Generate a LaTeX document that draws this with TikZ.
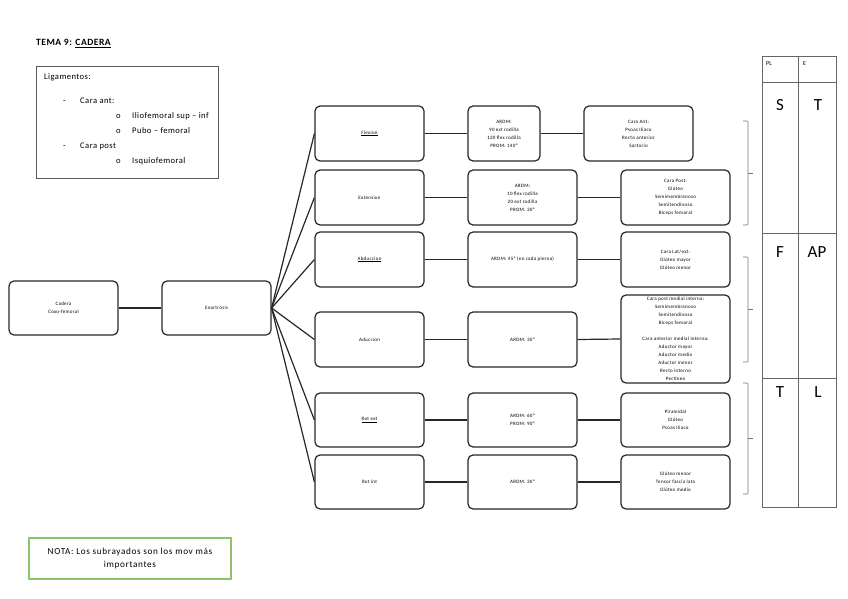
\documentclass[tikz,border=0pt]{standalone}
\usepackage{fontspec}
\setmainfont{Carlito}
\begin{document}
\begin{tikzpicture}[x=1pt,y=-1pt,
  box/.style={draw=black!85, rounded corners=5, line width=1.2pt, minimum width=109pt, minimum height=55pt, align=center, inner sep=1pt, font=\fontsize{5}{8}\selectfont\addfontfeatures{LetterSpace=6}},
  conn/.style={draw=black!85, line width=1.2pt},
  txt/.style={anchor=base west, inner sep=0pt, font=\fontsize{8.6}{9}\selectfont\addfontfeatures{LetterSpace=5}},
  big/.style={anchor=base, inner sep=0pt, font=\fontsize{17}{18}\selectfont},
  grid/.style={draw=black!60, line width=0.6pt},
  brc/.style={draw=black!55, line width=0.6pt, rounded corners=1pt}]
\useasboundingbox (0,0) rectangle (848,599);

% title
\node[anchor=base west, inner sep=0pt, font=\fontsize{9.6}{10}\selectfont\bfseries\addfontfeatures{LetterSpace=5}] (title) at (36,46) {TEMA 9: \underline{CADERA}};

% ligamentos box
\node[draw=black!65, line width=0.8pt, minimum width=182pt, minimum height=112pt, inner sep=0pt] (lig) at (127,122) {};
\node[txt] (l1) at (44,80) {Ligamentos:};
\node[txt] (l2d) at (63,104) {-};
\node[txt] (l2) at (80,104) {Cara ant:};
\node[txt] (l3d) at (116,119) {o};
\node[txt] (l3) at (132,119) {Iliofemoral sup -- inf};
\node[txt] (l4d) at (116,134) {o};
\node[txt] (l4) at (132,134) {Pubo -- femoral};
\node[txt] (l5d) at (63,149) {-};
\node[txt] (l5) at (80,149) {Cara post};
\node[txt] (l6d) at (116,163) {o};
\node[txt] (l6) at (132,163) {Isquiofemoral};

% main chain
\node[box, minimum height=54pt] (cad) at (63.5,308) {Cadera\\Coxo-femoral};
\node[box, minimum height=54pt] (enar) at (216.5,308) {Enartrosis};

% column 2
\node[box] (flex) at (369.5,133.5) {\underline{Flexion}};
\node[box] (ext) at (369.5,197.5) {Extension};
\node[box] (abd) at (369.5,259.5) {\underline{Abduccion}};
\node[box] (add) at (369.5,339.5) {Aduccion};
\node[box, minimum height=54pt] (rext) at (369.5,420) {\underline{Rot ext}};
\node[box, minimum height=54pt] (rint) at (369.5,482) {Rot int};

% column 3
\node[box, minimum width=72pt] (a1) at (504,133.5) {ARDM:\\90 ext rodilla\\120 flex rodilla\\PROM: 140º};
\node[box] (a2) at (522.5,197.5) {ARDM:\\10 flex rodilla\\20 ext rodilla\\PROM: 30º};
\node[box] (a3) at (522.5,259.5) {ARDM: 45º (en cada pierna)};
\node[box] (a4) at (522.5,339.5) {ARDM: 30º};
\node[box, minimum height=54pt] (a5) at (522.5,420) {ARDM: 60º\\PROM: 90º};
\node[box, minimum height=54pt] (a6) at (522.5,482) {ARDM: 30º};

% column 4
\node[box] (m1) at (638.5,133.5) {Cara Ant:\\Psoas Iliaco\\Recto anterior\\Sartorio};
\node[box] (m2) at (675.5,197.5) {Cara Post:\\Glúteo\\Semimembranoso\\Semitendinoso\\Bíceps femoral};
\node[box] (m3) at (675.5,259.5) {Cara Lat/ext:\\Glúteo mayor\\Glúteo menor};
\node[box, minimum height=88pt] (m4) at (675.5,339) {Cara post medial interna:\\Semimembranoso\\Semitendinoso\\Bíceps femoral\\[8pt]Cara anterior medial interna:\\Aductor mayor\\Aductor medio\\Aductor menor\\Recto interno\\Pectíneo};
\node[box, minimum height=54pt] (m5) at (675.5,420) {Piramidal\\Glúteo\\Psoas Iliaco};
\node[box, minimum height=54pt] (m6) at (675.5,482) {Glúteo menor\\Tensor fascia lata\\Glúteo medio};

% connectors
\draw[conn] (cad.east) -- (enar.west);
\foreach \n in {flex,ext,abd,add,rext,rint} {\draw[conn] (enar.east) -- (\n.west);}
\draw[conn] (flex.east) -- (a1.west);
\draw[conn] (a1.east) -- (m1.west);
\draw[conn] (ext.east) -- (a2.west);
\draw[conn] (a2.east) -- (m2.west);
\draw[conn] (abd.east) -- (a3.west);
\draw[conn] (a3.east) -- (m3.west);
\draw[conn] (add.east) -- (a4.west);
\draw[conn] (a4.east) -- (m4.west);
\draw[conn] (rext.east) -- (a5.west);
\draw[conn] (a5.east) -- (m5.west);
\draw[conn] (rint.east) -- (a6.west);
\draw[conn] (a6.east) -- (m6.west);

% braces
\draw[brc] (743,121) -- (748,121) -- (748,225) -- (743,225);
\draw[brc] (748,173) -- (753,173);
\draw[brc] (743,257) -- (748,257) -- (748,362) -- (743,362);
\draw[brc] (748,309) -- (753,309);
\draw[brc] (743,383) -- (748,383) -- (748,494) -- (743,494);
\draw[brc] (748,438) -- (753,438);

% table
\draw[grid] (762,56) rectangle (836,507);
\draw[grid] (798,56) -- (798,507);
\draw[grid] (762,82) -- (836,82);
\draw[grid] (762,233) -- (836,233);
\draw[grid] (762,378) -- (836,378);
\node[anchor=base west, inner sep=0pt, font=\fontsize{6}{6}\selectfont] (pl) at (766,66) {PL};
\node[anchor=base west, inner sep=0pt, font=\fontsize{6}{6}\selectfont] (e) at (803,66) {E};
\node[big] (s1) at (780,111) {S};
\node[big] (t1) at (818,111) {T};
\node[big] (f1) at (780,257) {F};
\node[big] (ap1) at (817,257) {AP};
\node[big] (t2) at (780,397) {T};
\node[big] (l2x) at (818,397) {L};

% note
\node[draw={rgb,255:red,140;green,197;blue,105}, line width=1.2pt, minimum width=202pt, minimum height=41pt, align=center, inner sep=0pt, font=\fontsize{9.2}{12.5}\selectfont\addfontfeatures{LetterSpace=7}] (nota) at (130,558.5) {NOTA: Los subrayados son los mov más\\importantes};
\end{tikzpicture}
\end{document}
